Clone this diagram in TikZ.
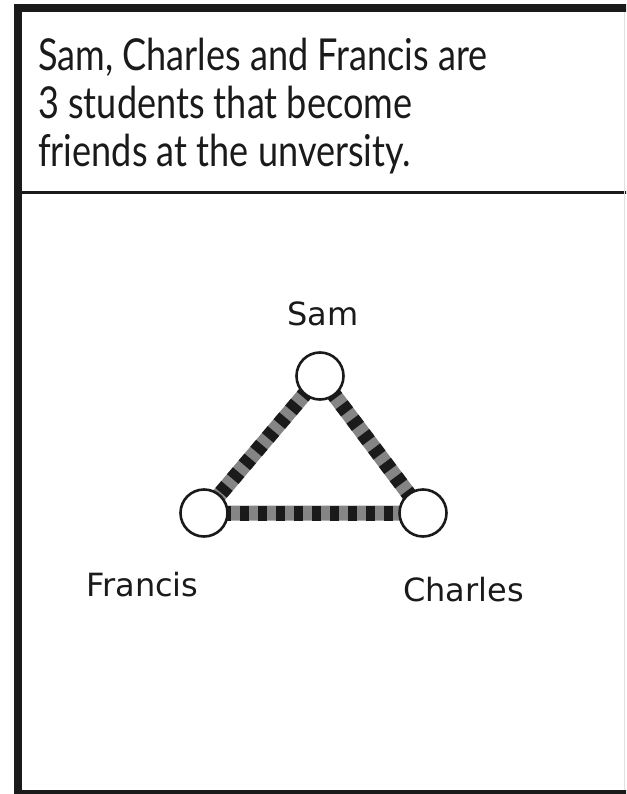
\documentclass[tikz,border=0pt]{standalone}
\usepackage{fontspec}
\setmainfont{Lato}
\newfontfamily\titlefont[FakeStretch=0.82]{Lato}
\newfontfamily\labelfont{DejaVu Sans}
\usetikzlibrary{backgrounds}
\definecolor{framecol}{HTML}{1A1A1A}
\definecolor{edgegray}{HTML}{858585}
\begin{document}
\begin{tikzpicture}[x=1pt,y=-1pt,
  person/.style={circle, draw=framecol, line width=2.6pt, fill=white, minimum size=47pt, inner sep=0pt},
  edgebase/.style={draw=edgegray, line width=15pt},
  edgedash/.style={draw=framecol, line width=15pt, dash pattern=on 9pt off 9pt},
  titletext/.style={anchor=base west, inner sep=0pt, font=\titlefont\fontsize{44}{48}\selectfont, text=framecol},
  nametext/.style={inner sep=0pt, font=\labelfont\fontsize{32}{36}\selectfont, text=framecol}]
\useasboundingbox (0,0) rectangle (626,794);
\clip (0,0) rectangle (626,794);
% frame
\draw[framecol, line width=8pt] (17.5,8) rectangle (660,794);
\draw[framecol, line width=3.5pt] (17.5,192.5) -- (660,192.5);
\draw[black!12, line width=1pt] (624.5,12) -- (624.5,790);
% title
\node[titletext] (t1) at (38,71) {Sam, Charles and Francis are};
\node[titletext] (t2) at (38,119) {3 students that become};
\node[titletext] (t3) at (38,167) {friends at the unversity.};
% people
\node[person] (S) at (320,376) {};
\node[person] (F) at (204,513) {};
\node[person] (C) at (423,513) {};
\begin{scope}[on background layer]
  \draw[edgebase] (F.center) -- (S.center) -- (C.center) -- cycle;
  \draw[edgedash] (S.center) -- (F.center);
  \draw[edgedash] (S.center) -- (C.center);
  \draw[edgedash] (F.center) -- (C.center);
\end{scope}
\node[nametext, anchor=base] (ls) at (323,325) {Sam};
\node[nametext, anchor=base west] (lf) at (86,596) {Francis};
\node[nametext, anchor=base west] (lc) at (403,601) {Charles};
\end{tikzpicture}
\end{document}
